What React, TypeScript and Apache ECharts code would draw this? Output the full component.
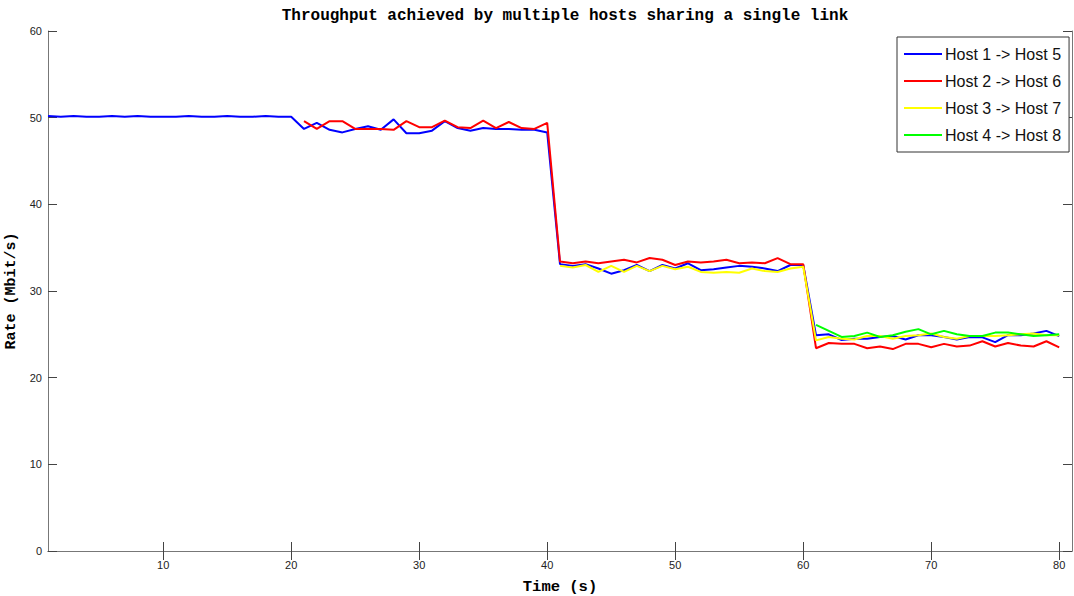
import React, { useEffect, useRef } from "react";
import * as echarts from "echarts";

const title = "Throughput achieved by multiple hosts sharing a single link";
const xName = "Time (s)";
const yName = "Rate (Mbit/s)";
const xTicks = [10, 20, 30, 40, 50, 60, 70, 80];
const yTicks = [0, 10, 20, 30, 40, 50, 60];

const seriesNames = ["Host 1 -> Host 5", "Host 2 -> Host 6", "Host 3 -> Host 7", "Host 4 -> Host 8"];
const seriesColors = ["#0000ff", "#ff0000", "#ffff00", "#00ff00"];
const seriesStart = [1, 21, 41, 61];

const host1 = [
  50.2, 50.1, 50.2, 50.1, 50.1, 50.2, 50.1, 50.2, 50.1, 50.1, 50.1, 50.2, 50.1, 50.1, 50.2, 50.1, 50.1, 50.2, 50.1, 50.1,
  48.7, 49.4, 48.6, 48.3, 48.7, 49.0, 48.6, 49.8, 48.2, 48.2, 48.5, 49.6, 48.8, 48.5, 48.8, 48.7, 48.7, 48.6, 48.6, 48.3,
  33.1, 32.9, 33.1, 32.6, 32.0, 32.4, 33.0, 32.3, 33.0, 32.6, 33.2, 32.4, 32.5, 32.7, 32.9, 32.8, 32.6, 32.3, 33.0, 33.0,
  24.9, 25.0, 24.35, 24.5, 24.5, 24.7, 24.8, 24.4, 24.9, 24.9, 24.7, 24.4, 24.7, 24.65, 24.1, 24.9, 24.9, 25.1, 25.4, 24.8,
];
const host2 = [
  49.6, 48.7, 49.6, 49.6, 48.7, 48.7, 48.7, 48.6, 49.6, 48.9, 48.9, 49.65, 48.9, 48.8, 49.65, 48.8, 49.5, 48.8, 48.7, 49.4,
  33.4, 33.2, 33.4, 33.2, 33.4, 33.6, 33.3, 33.8, 33.6, 33.0, 33.4, 33.3, 33.4, 33.6, 33.2, 33.3, 33.2, 33.8, 33.1, 33.1,
  23.4, 24.0, 23.9, 23.9, 23.4, 23.6, 23.3, 23.9, 23.9, 23.5, 23.9, 23.6, 23.7, 24.2, 23.6, 24.0, 23.7, 23.6, 24.2, 23.5,
];
const host3 = [
  32.9, 32.7, 33.0, 32.2, 32.9, 32.2, 32.9, 32.3, 32.9, 32.5, 32.8, 32.2, 32.1, 32.2, 32.1, 32.6, 32.3, 32.2, 32.6, 32.8,
  24.3, 24.7, 24.5, 24.4, 24.8, 24.8, 24.5, 24.8, 24.9, 25.1, 24.7, 24.5, 24.8, 24.8, 24.8, 24.9, 25.0, 25.1, 24.9, 24.9,
];
const host4 = [
  26.1, 25.4, 24.7, 24.8, 25.2, 24.7, 24.9, 25.3, 25.6, 25.0, 25.4, 25.0, 24.8, 24.8, 25.2, 25.2, 25.0, 24.8, 24.9, 25.0,
];
const hostValues = [host1, host2, host3, host4];

const AXIS_COLOR = "#777777";
const MONO = "'Liberation Mono', 'DejaVu Sans Mono', monospace";
const SANS = "'Liberation Sans', Arial, sans-serif";

export default function App() {
  const ref = useRef<HTMLDivElement>(null);
  useEffect(() => {
    if (!ref.current) return;
    const chart = echarts.init(ref.current, null, { renderer: "svg" });
    const axisCommon = {
      axisLine: { show: true, lineStyle: { color: AXIS_COLOR, width: 1 } },
      splitLine: { show: false },
    };
    chart.setOption({
      animation: false,
      backgroundColor: "#ffffff",
      title: {
        text: title,
        left: 560,
        top: 3,
        textAlign: "center",
        textStyle: { fontFamily: MONO, fontWeight: "bold", fontSize: 16, color: "#000" },
      },
      grid: { left: 48, right: 2, top: 31, bottom: 45, containLabel: false, outerBoundsMode: "none" },
      legend: {
        orient: "vertical",
        left: 897,
        top: 37,
        padding: [9, 8, 9, 7],
        itemGap: 11,
        itemWidth: 38,
        itemHeight: 2,
        icon: "rect",
        backgroundColor: "#ffffff",
        borderColor: "#333333",
        borderWidth: 1,
        borderRadius: 0,
        textStyle: { fontFamily: SANS, fontSize: 16, color: "#111", lineHeight: 16, padding: [0, 0, 0, -2] },
        data: seriesNames,
      },
      xAxis: [
        {
          type: "value",
          min: 1,
          max: 81,
          position: "bottom",
          name: xName,
          nameLocation: "middle",
          nameGap: 28,
          nameTextStyle: { fontFamily: MONO, fontWeight: "bold", fontSize: 15.5, color: "#000" },
          ...axisCommon,
          axisTick: { show: true, inside: true, length: 9, customValues: xTicks, lineStyle: { color: "#444" } },
          axisLabel: { show: true, customValues: xTicks, margin: 8, fontFamily: SANS, fontSize: 11, color: "#222" },
        },
        {
          type: "value",
          min: 1,
          max: 81,
          position: "top",
          ...axisCommon,
          axisTick: { show: true, inside: true, length: 9, customValues: xTicks, lineStyle: { color: "#444" } },
          axisLabel: { show: false },
        },
      ],
      yAxis: [
        {
          type: "value",
          min: 0,
          max: 60,
          interval: 10,
          position: "left",
          name: yName,
          nameLocation: "middle",
          nameGap: 24,
          nameRotate: 90,
          nameTextStyle: { fontFamily: MONO, fontWeight: "bold", fontSize: 15, color: "#000" },
          ...axisCommon,
          axisTick: { show: true, inside: true, length: 9, customValues: yTicks, lineStyle: { color: "#444" } },
          axisLabel: { show: true, customValues: yTicks, margin: 6, fontFamily: SANS, fontSize: 11, color: "#222" },
        },
        {
          type: "value",
          min: 0,
          max: 60,
          interval: 10,
          position: "right",
          ...axisCommon,
          axisTick: { show: true, inside: true, length: 9, customValues: yTicks, lineStyle: { color: "#444" } },
          axisLabel: { show: false },
        },
      ],
      series: seriesNames.map((name, k) => ({
        name,
        type: "line",
        xAxisIndex: 0,
        yAxisIndex: 0,
        showSymbol: false,
        symbol: "none",
        color: seriesColors[k],
        lineStyle: { color: seriesColors[k], width: 2 },
        data: hostValues[k].map((v, i) => [seriesStart[k] + i, v]),
      })),
    });
    return () => chart.dispose();
  }, []);
  return (
    <div
      ref={ref}
      style={{ position: "fixed", left: 0, top: 0, width: 1074, height: 596, background: "#fff" }}
    />
  );
}
